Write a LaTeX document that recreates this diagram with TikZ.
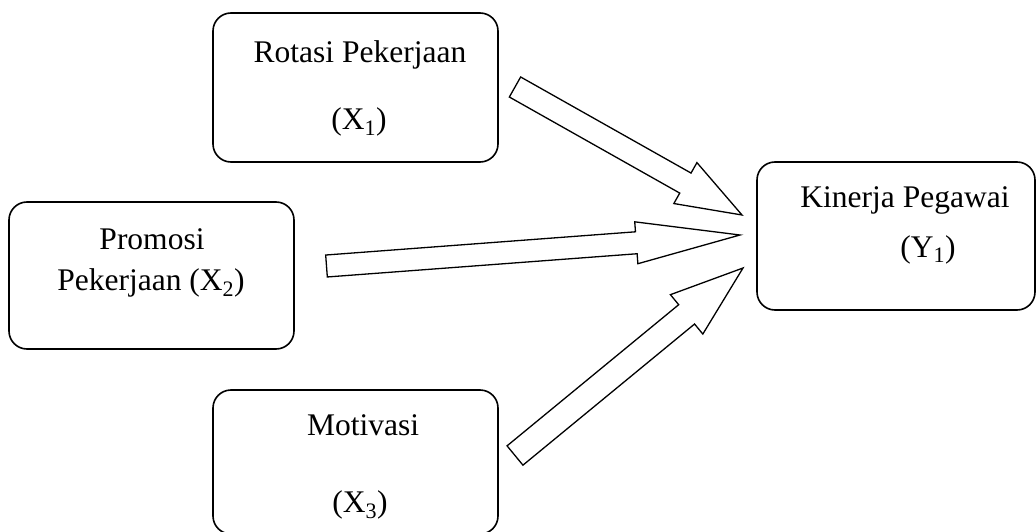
\documentclass[tikz,border=0pt]{standalone}
\usepackage{fontspec}
\setmainfont{Liberation Serif}
\usepackage{tikz}
\usetikzlibrary{calc}

% hollow block arrow: tail, tip, shaft half width, head half width, head length
\newcommand{\blockarrow}[5]{%
  \coordinate (#2base) at ($(#2)!#5!(#1)$);
  \draw[arrowline] ($(#1)!#3!90:(#2)$) -- ($(#2base)!#3!90:(#2)$)
    -- ($(#2base)!#4!90:(#2)$) -- (#2) -- ($(#2base)!#4!-90:(#2)$)
    -- ($(#2base)!#3!-90:(#2)$) -- ($(#1)!#3!-90:(#2)$) -- cycle;
}

\begin{document}
\begin{tikzpicture}[
  x=1pt, y=-1pt,
  font=\fontsize{31.5}{36}\selectfont,
  box/.style={draw, line width=1.6pt, rounded corners=18pt, inner sep=0pt},
  label/.style={anchor=base, inner sep=0pt},
  arrowline/.style={draw, line width=1.3pt, line join=miter, fill=white},
]
  \useasboundingbox (0,0) rectangle (1036,532);

  % variable boxes
  \node[box, minimum width=285pt, minimum height=149pt] (rot) at (355.5,87.5) {};
  \node[box, minimum width=285pt, minimum height=147pt] (pro) at (151.5,275.5) {};
  \node[box, minimum width=285pt, minimum height=144pt] (mot) at (355.5,462) {};
  \node[box, minimum width=278pt, minimum height=148pt] (kin) at (896,236) {};

  % texts
  \node[label] (rotName) at (360,63) {Rotasi Pekerjaan};
  \node[label] (rotVar)  at (359,130) {(X\textsubscript{1})};
  \node[label] (proName) at (152,249) {Promosi};
  \node[label] (proVar)  at (151,290) {Pekerjaan (X\textsubscript{2})};
  \node[label] (motName) at (363,435) {Motivasi};
  \node[label] (motVar)  at (360,512) {(X\textsubscript{3})};
  \node[label] (kinName) at (905,207) {Kinerja Pegawai};
  \node[label] (kinVar)  at (928,257) {(Y\textsubscript{1})};

  % arrow ends
  \coordinate (rotTail) at (515,87);
  \coordinate (rotTip)  at (742,215);
  \coordinate (proTail) at (326.5,266);
  \coordinate (proTip)  at (740,235);
  \coordinate (motTail) at (515,455.5);
  \coordinate (motTip)  at (743,268);

  \blockarrow{rotTail}{rotTip}{11.5pt}{23.5pt}{65pt}
  \blockarrow{proTail}{proTip}{11pt}{21pt}{104pt}
  \blockarrow{motTail}{motTip}{12.5pt}{25.5pt}{73pt}
\end{tikzpicture}
\end{document}
